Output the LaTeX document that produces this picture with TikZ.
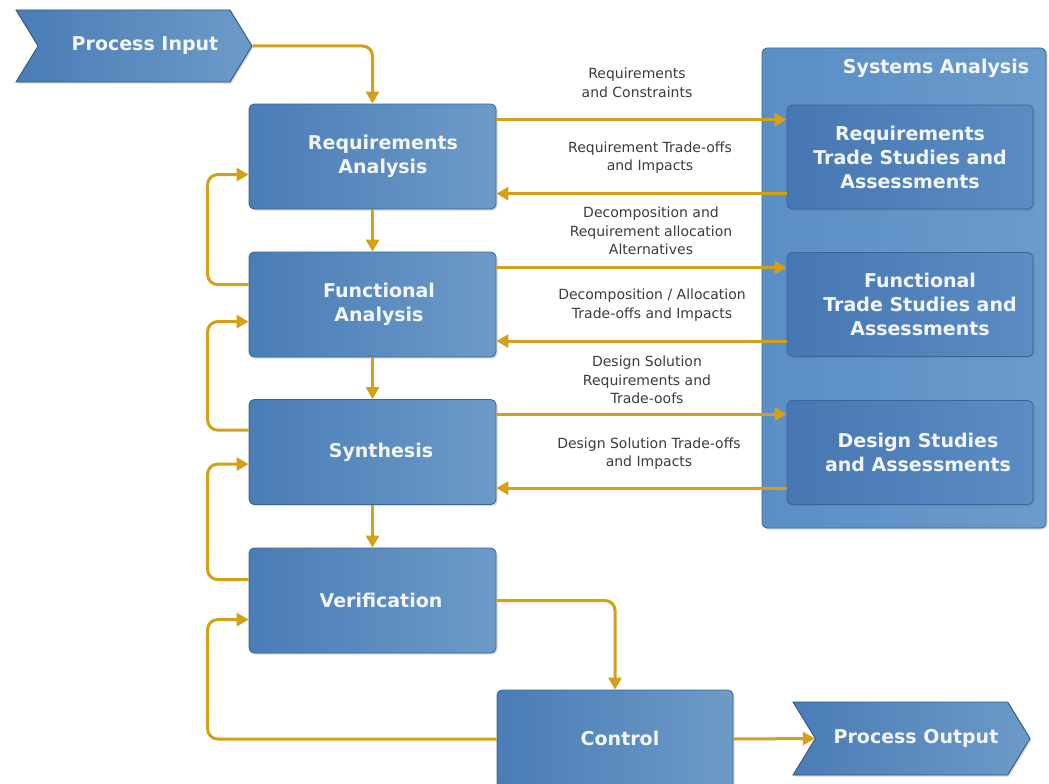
\documentclass[tikz,border=0pt]{standalone}
\usepackage{fontspec}
\setmainfont{DejaVu Sans}
\usetikzlibrary{shapes.symbols,arrows.meta,calc,shadows}
\definecolor{gold}{HTML}{D4A017}
\definecolor{boxL}{HTML}{4A7CB6}
\definecolor{boxR}{HTML}{6C9BC8}
\definecolor{boxB}{HTML}{3B6696}
\definecolor{outerL}{HTML}{5A8EC5}
\definecolor{outerR}{HTML}{6A9BCC}
\definecolor{innerL}{HTML}{4677B2}
\definecolor{innerR}{HTML}{5B8CC3}
\definecolor{labelc}{HTML}{3C3C3C}
\definecolor{txt}{HTML}{F2F6FA}
\tikzset{
  shadowed/.style={drop shadow={shadow xshift=1.5pt,shadow yshift=-1.5pt,opacity=0.25,fill=black!60}},
  procbox/.style={draw=boxB, line width=0.8pt, rounded corners=5pt, left color=boxL, right color=boxR,
    minimum width=247pt, minimum height=105pt, shadowed},
  innerbox/.style={draw=boxB, line width=0.8pt, rounded corners=5pt, left color=innerL, right color=innerR,
    minimum width=246pt, minimum height=104pt, shadowed},
  outerbox/.style={draw=boxB, line width=0.8pt, rounded corners=5pt, left color=outerL, right color=outerR,
    minimum width=284pt, minimum height=480pt, shadowed},
  chev/.style={signal, signal to=east, signal from=west, signal pointer angle=117, draw=boxB!85!black, line width=0.9pt,
    left color=boxL, right color=boxR, minimum height=72pt, inner sep=0pt, shadowed},
  boxtext/.style={text=txt, font=\bfseries\fontsize{19}{24}\selectfont, align=center},
  flow/.style={draw=gold, line width=3pt, -{Triangle[length=12pt,width=13pt]}, rounded corners=10pt},
  lbl/.style={text=labelc, font=\fontsize{14}{18.5}\selectfont, align=center},
}
\begin{document}
\begin{tikzpicture}[x=1pt,y=-1pt]
\useasboundingbox[fill=white] (0,0) rectangle (1049,784);

% systems analysis container
\node[outerbox] (sa) at (904,288) {};
\node[boxtext] (satitle) at (936,68) {Systems Analysis};
\node[innerbox] (rts) at (910,157) {};
\node[boxtext] (rtst) at (910,157) {Requirements\\Trade Studies and\\Assessments};
\node[innerbox] (fts) at (910,304.5) {};
\node[boxtext] (ftst) at (920,304.5) {Functional\\Trade Studies and\\Assessments};
\node[innerbox] (dts) at (910,452.5) {};
\node[boxtext] (dtst) at (918,452.5) {Design Studies\\and Assessments};

% process chain
\node[chev, minimum width=236pt] (pin) at (134,46) {};
\node[boxtext] (pint) at (145,46) {Process Input};
\node[procbox] (req) at (372.5,156.5) {};
\node[boxtext] (reqt) at (383,156.5) {Requirements\\Analysis};
\node[procbox] (func) at (372.5,304.5) {};
\node[boxtext] (funct) at (379,304.5) {Functional\\Analysis};
\node[procbox] (syn) at (372.5,452) {};
\node[boxtext] (synt) at (381,452) {Synthesis};
\node[procbox] (ver) at (372.5,600.5) {};
\node[boxtext] (vert) at (381,600.5) {Verification};
\node[procbox, minimum width=236pt, minimum height=98pt] (ctl) at (615,739) {};
\node[boxtext] (ctlt) at (620,738) {Control};
\node[chev, minimum width=237pt, minimum height=73pt] (pout) at (911.5,738.5) {};
\node[boxtext] (poutt) at (916,738.5) {Process Output};

% main flow
\draw[flow] (pin.east) -| (req.north);
\draw[flow] (req.south) -- (func.north);
\draw[flow] (func.south) -- (syn.north);
\draw[flow] (syn.south) -- (ver.north);
\draw[flow] (ver.east) -| (ctl.north);
\draw[flow] (ctl.east) -- (pout.west);

% feedback loops
\draw[flow] ($(func.north west)+(0,33)$) -- ++(-41,0) |- ($(req.north west)+(0,71)$);
\draw[flow] ($(syn.north west)+(0,31)$) -- ++(-41,0) |- ($(func.north west)+(0,70)$);
\draw[flow] ($(ver.north west)+(0,32)$) -- ++(-41,0) |- ($(syn.north west)+(0,65)$);
\draw[flow] (ctl.west) -- ++(-289,0) |- ($(ver.north west)+(0,72)$);

% exchanges with systems analysis
\coordinate (a1) at ($(req.north east)+(0,16)$);
\draw[flow] (a1) -- (a1 -| rts.west);
\coordinate (b1) at ($(rts.north west)+(0,89)$);
\draw[flow] (b1) -- (b1 -| req.east);
\coordinate (a2) at ($(func.north east)+(0,16)$);
\draw[flow] (a2) -- (a2 -| fts.west);
\coordinate (b2) at ($(fts.north west)+(0,89)$);
\draw[flow] (b2) -- (b2 -| func.east);
\coordinate (a3) at ($(syn.north east)+(0,15)$);
\draw[flow] (a3) -- (a3 -| dts.west);
\coordinate (b3) at ($(dts.north west)+(0,88)$);
\draw[flow] (b3) -- (b3 -| syn.east);

% labels
\node[lbl] (l1) at (637,83) {Requirements\\and Constraints};
\node[lbl] (l2) at (650,157.5) {Requirement Trade-offs\\and Impacts};
\node[lbl] (l3) at (651,231) {Decomposition and\\Requirement allocation\\Alternatives};
\node[lbl] (l4) at (652,305) {Decomposition / Allocation\\Trade-offs and Impacts};
\node[lbl] (l5) at (647,380) {Design Solution\\Requirements and\\Trade-oofs};
\node[lbl] (l6) at (649,453.5) {Design Solution Trade-offs\\and Impacts};
\end{tikzpicture}
\end{document}
